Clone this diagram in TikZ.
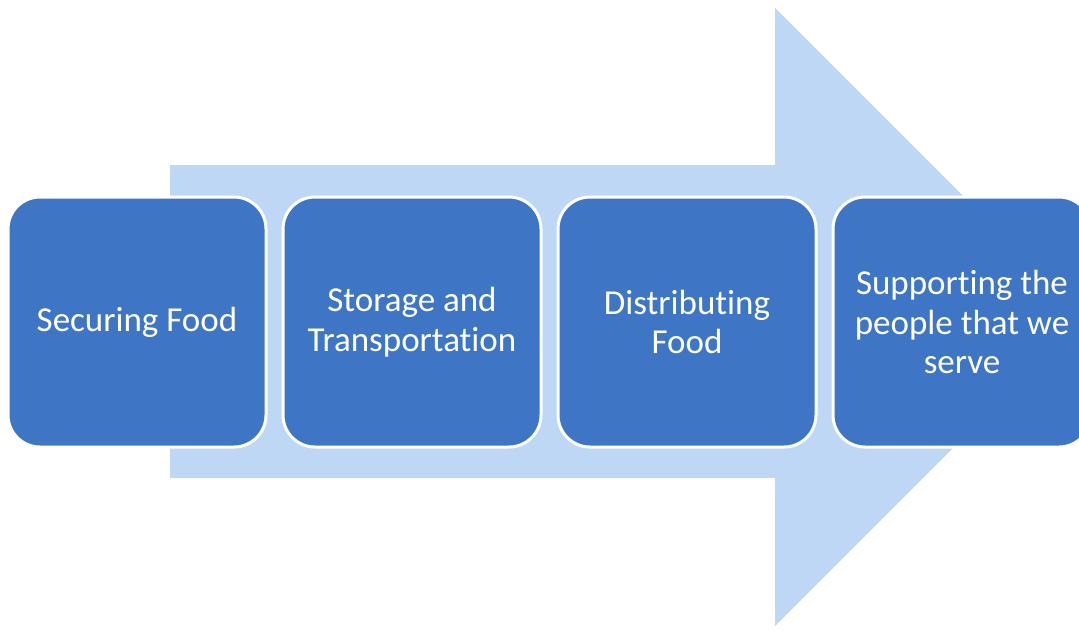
\documentclass[tikz,border=0pt]{standalone}
\usepackage{fontspec}
\setmainfont[RawFeature=-liga]{Carlito}
\usetikzlibrary{positioning}

\definecolor{stepblue}{RGB}{62,117,196}
\definecolor{arrowblue}{RGB}{190,215,244}

\tikzset{
    stepbox/.style={draw=white, line width=3pt, fill=stepblue, rounded corners=32pt,
        minimum width=258pt, minimum height=250pt, text=white, align=center,
        font=\fontsize{35}{39.5}\selectfont}
}

\begin{document}
\begin{tikzpicture}[x=1pt,y=-1pt]
        \clip (0,0) rectangle (1079,630);

        % Arrow
        \path [fill=arrowblue] (170,165) -- (775,165) -- (775,8) -- (1084,317) --
            (775,626) -- (775,478) -- (170,478) -- cycle;

        % Steps
        \node [stepbox] (secure) at (137,322) {Securing Food};
        \node [stepbox, right=14pt of secure] (store) {Storage and\\Transportation};
        \node [stepbox, right=14pt of store] (distribute) {Distributing\\Food};
        \node [stepbox, right=14pt of distribute] (support) {Supporting the\\people that we\\serve};
    \end{tikzpicture}
\end{document}
